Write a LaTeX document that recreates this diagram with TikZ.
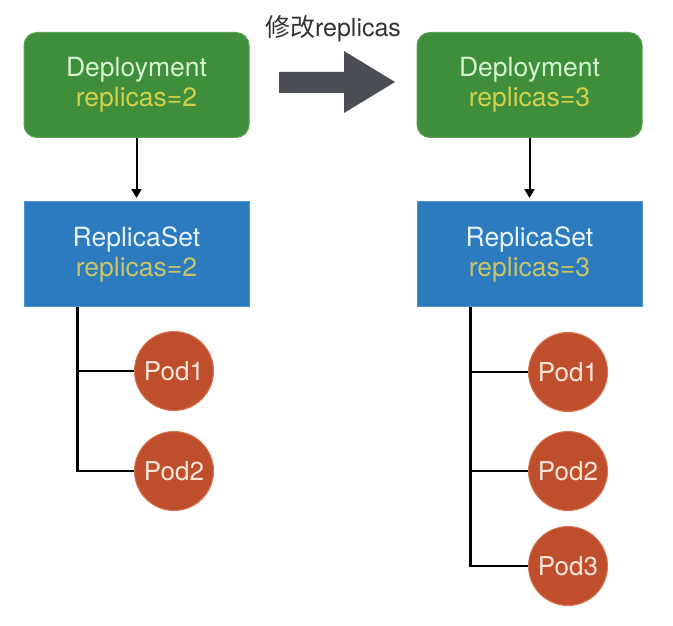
\documentclass[tikz,border=0pt]{standalone}
\usepackage{fontspec}
\setmainfont{TeX Gyre Heros}
\newfontfamily\cjk{Noto Sans CJK SC}
\usetikzlibrary{arrows.meta}
\definecolor{depgreen}{HTML}{3E8E3B}
\definecolor{depedge}{HTML}{58A352}
\definecolor{rsblue}{HTML}{2B7BBE}
\definecolor{rsedge}{HTML}{4A93CF}
\definecolor{podred}{HTML}{BF4E2D}
\definecolor{podedge}{HTML}{D8744F}
\definecolor{mint}{HTML}{D6F3CF}
\definecolor{yel}{HTML}{D3D04A}
\definecolor{olive}{HTML}{C9C467}
\definecolor{pale}{HTML}{E6F3FA}
\definecolor{podtxt}{HTML}{FBE6DA}
\definecolor{bigarrow}{HTML}{4B4F55}
\begin{document}
\begin{tikzpicture}[x=1pt,y=-1pt,
  depbox/.style={draw=depedge,line width=1pt,fill=depgreen,rounded corners=13pt,
    minimum width=225pt,minimum height=105pt,inner sep=0pt,align=center,
    font=\fontsize{26.5}{30}\selectfont},
  rsbox/.style={draw=rsedge,line width=1pt,fill=rsblue,
    minimum width=225pt,minimum height=105pt,inner sep=0pt,align=center,
    font=\fontsize{26.5}{30}\selectfont},
  pod/.style={circle,draw=podedge,line width=1pt,fill=podred,minimum size=79pt,
    inner sep=0pt,text=podtxt,font=\fontsize{26}{28}\selectfont},
  arr/.style={line width=2pt,-{Triangle[width=10pt,length=9pt]},shorten >=3pt},
  tree/.style={line width=2.6pt,black}]
\useasboundingbox (0,0) rectangle (673,626);

% top label and big arrow
\node[anchor=base,text=black!80,font=\fontsize{25}{28}\selectfont] (lbl) at (333,37)
  {{\cjk 修改}replicas};
\fill[bigarrow] (279,72) -- (344,72) -- (344,51) -- (395,82) -- (344,113)
  -- (344,93) -- (279,93) -- cycle;

% left side
\node[depbox] (d1) at (136.5,85)
  {\textcolor{mint}{Deployment}\\\textcolor{yel}{replicas=2}};
\node[rsbox] (r1) at (136.5,254)
  {\textcolor{pale}{ReplicaSet}\\\textcolor{olive}{replicas=2}};
\draw[arr] (d1.south) -- (r1.north);
\node[pod] (p11) at (174,371) {Pod1};
\node[pod] (p12) at (174,471) {Pod2};
\coordinate (t1) at ([xshift=54pt]r1.south west);
\draw[tree] (t1) |- (p12.west);
\draw[tree] (t1 |- p11.west) -- (p11.west);

% right side
\node[depbox] (d2) at (529.5,85)
  {\textcolor{mint}{Deployment}\\\textcolor{yel}{replicas=3}};
\node[rsbox] (r2) at (529.5,254)
  {\textcolor{pale}{ReplicaSet}\\\textcolor{olive}{replicas=3}};
\draw[arr] (d2.south) -- (r2.north);
\node[pod] (p21) at (568,372) {Pod1};
\node[pod] (p22) at (568,471) {Pod2};
\node[pod] (p23) at (568,566) {Pod3};
\coordinate (t2) at ([xshift=54pt]r2.south west);
\draw[tree] (t2) |- (p23.west);
\draw[tree] (t2 |- p21.west) -- (p21.west);
\draw[tree] (t2 |- p22.west) -- (p22.west);
\end{tikzpicture}
\end{document}
